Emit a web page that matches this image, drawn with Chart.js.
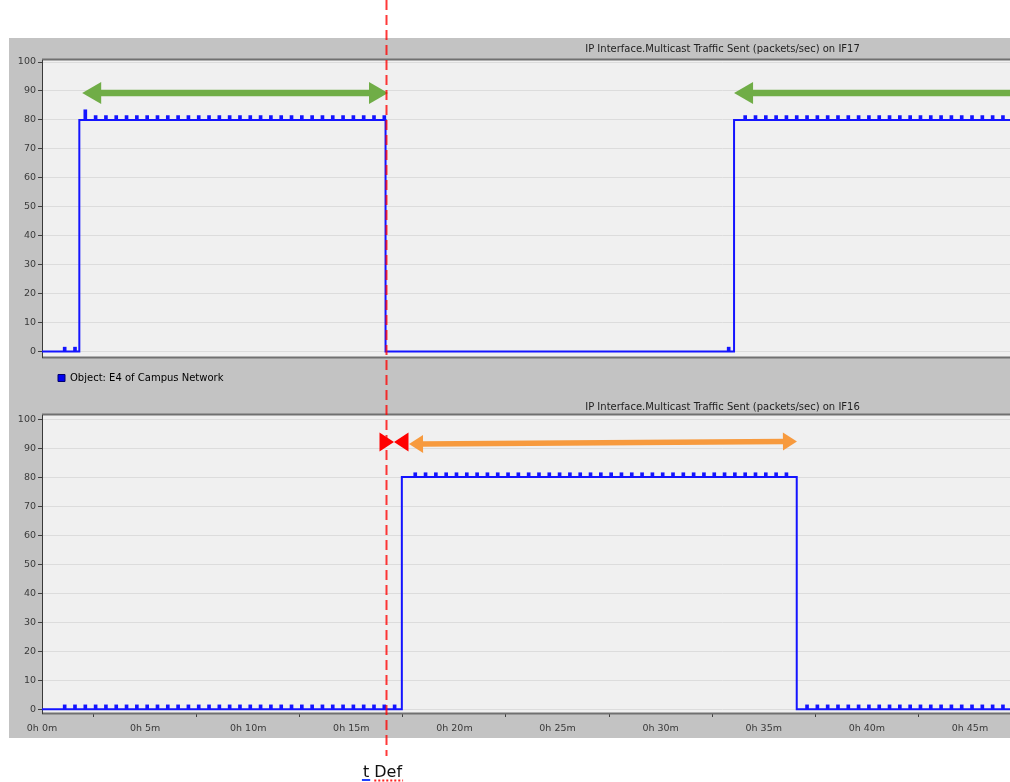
<!DOCTYPE html>
<html><head><meta charset="utf-8">
<script src="https://cdn.jsdelivr.net/npm/chart.js@4.4.1/dist/chart.umd.min.js"></script>
<style>
html,body{margin:0;padding:0;background:#fff;overflow:hidden}
#wrap{position:relative;width:1010px;height:782px;overflow:hidden;background:#fff}
#panel{position:absolute;left:9px;top:38px;width:1001px;height:700px;background:#c3c3c3}
#c1{position:absolute;left:0;top:0}
#c2{position:absolute;left:0;top:395px}
</style></head><body>
<div id="wrap"><div id="panel"></div>
<canvas id="c1" width="1403" height="395"></canvas>
<canvas id="c2" width="1403" height="387"></canvas>
</div>
<script>
// ---------- data ----------
const topTitle = 'IP Interface.Multicast Traffic Sent (packets/sec) on IF17';
const bottomTitle = 'IP Interface.Multicast Traffic Sent (packets/sec) on IF16';
const seriesLabel = 'Object: E4 of Campus Network';
const xTickValues = [0, 5, 10, 15, 20, 25, 30, 35, 40, 45];
const xTickLabels = ['0h 0m', '0h 5m', '0h 10m', '0h 15m', '0h 20m', '0h 25m', '0h 30m', '0h 35m', '0h 40m', '0h 45m'];
const yTickValues = [0, 10, 20, 30, 40, 50, 60, 70, 80, 90, 100];

// step levels (minutes, packets/sec)
const topStepTimes  = [0, 1.81, 16.66, 33.56, 47];
const topStepValues = [0, 80, 0, 80, 80];
const bottomStepTimes  = [0, 17.45, 36.6, 47];
const bottomStepValues = [0, 80, 0, 0];

// individual samples (bump tops)
const topSampleTimes = [1.1, 1.6,
  2.1, 2.6, 3.1, 3.6, 4.1, 4.6, 5.1, 5.6, 6.1, 6.6, 7.1, 7.6, 8.1, 8.6, 9.1, 9.6,
  10.1, 10.6, 11.1, 11.6, 12.1, 12.6, 13.1, 13.6, 14.1, 14.6, 15.1, 15.6, 16.1, 16.6,
  33.3,
  34.1, 34.6, 35.1, 35.6, 36.1, 36.6, 37.1, 37.6, 38.1, 38.6, 39.1, 39.6, 40.1, 40.6,
  41.1, 41.6, 42.1, 42.6, 43.1, 43.6, 44.1, 44.6, 45.1, 45.6, 46.1, 46.6];
const topSampleValues = [1.5, 1.5,
  83.5, 81.5, 81.5, 81.5, 81.5, 81.5, 81.5, 81.5, 81.5, 81.5, 81.5, 81.5, 81.5, 81.5, 81.5, 81.5,
  81.5, 81.5, 81.5, 81.5, 81.5, 81.5, 81.5, 81.5, 81.5, 81.5, 81.5, 81.5, 81.5, 81.5,
  1.5,
  81.5, 81.5, 81.5, 81.5, 81.5, 81.5, 81.5, 81.5, 81.5, 81.5, 81.5, 81.5, 81.5, 81.5,
  81.5, 81.5, 81.5, 81.5, 81.5, 81.5, 81.5, 81.5, 81.5, 81.5, 81.5, 81.5];
const bottomSampleTimes = [
  1.1, 1.6, 2.1, 2.6, 3.1, 3.6, 4.1, 4.6, 5.1, 5.6, 6.1, 6.6, 7.1, 7.6, 8.1, 8.6, 9.1,
  9.6, 10.1, 10.6, 11.1, 11.6, 12.1, 12.6, 13.1, 13.6, 14.1, 14.6, 15.1, 15.6, 16.1, 16.6, 17.1,
  18.1, 18.6, 19.1, 19.6, 20.1, 20.6, 21.1, 21.6, 22.1, 22.6, 23.1, 23.6, 24.1, 24.6, 25.1, 25.6,
  26.1, 26.6, 27.1, 27.6, 28.1, 28.6, 29.1, 29.6, 30.1, 30.6, 31.1, 31.6, 32.1, 32.6, 33.1, 33.6,
  34.1, 34.6, 35.1, 35.6, 36.1,
  37.1, 37.6, 38.1, 38.6, 39.1, 39.6, 40.1, 40.6, 41.1, 41.6, 42.1, 42.6, 43.1, 43.6, 44.1, 44.6,
  45.1, 45.6, 46.1, 46.6];
const bottomSampleValues = [
  1.5, 1.5, 1.5, 1.5, 1.5, 1.5, 1.5, 1.5, 1.5, 1.5, 1.5, 1.5, 1.5, 1.5, 1.5, 1.5, 1.5,
  1.5, 1.5, 1.5, 1.5, 1.5, 1.5, 1.5, 1.5, 1.5, 1.5, 1.5, 1.5, 1.5, 1.5, 1.5, 1.5,
  81.5, 81.5, 81.5, 81.5, 81.5, 81.5, 81.5, 81.5, 81.5, 81.5, 81.5, 81.5, 81.5, 81.5, 81.5, 81.5,
  81.5, 81.5, 81.5, 81.5, 81.5, 81.5, 81.5, 81.5, 81.5, 81.5, 81.5, 81.5, 81.5, 81.5, 81.5, 81.5,
  81.5, 81.5, 81.5, 81.5, 81.5,
  1.5, 1.5, 1.5, 1.5, 1.5, 1.5, 1.5, 1.5, 1.5, 1.5, 1.5, 1.5, 1.5, 1.5, 1.5, 1.5,
  1.5, 1.5, 1.5, 1.5];

// annotations (data units)
const tDef = 16.66;
const tDefLabel = 't Def';
const greenArrowStarts = [1.95, 33.56];
const greenArrowEnds   = [16.78, 66];
const greenArrowLevel  = 89.3;
const orangeArrowX = [17.8, 36.61];
const orangeArrowY = [91.4, 92.3];
const redBowtieX = 17.07;
const redBowtieY = 92.1;

// ---------- drawing ----------
const FONT = "'DejaVu Sans', sans-serif";
const TXT = '#3a3a3a';
const X_MAX = 66;

function levelAt(times, values, t) {
  let v = values[0];
  for (let i = 0; i < times.length; i++) if (times[i] <= t) v = values[i];
  return v;
}
function stepData(times, values) { return times.map((t, i) => ({x: t, y: values[i]})); }
function bumpData(sTimes, sValues, stTimes, stValues) {
  return sTimes.map((t, i) => ({x: t, y: [levelAt(stTimes, stValues, t), sValues[i]]}));
}

const plotBg = { id: 'plotBg', beforeDraw(chart) {
  const {ctx, chartArea: a} = chart;
  ctx.save(); ctx.fillStyle = '#f0f0f0';
  ctx.fillRect(a.left, a.top, a.right - a.left, a.bottom - a.top); ctx.restore();
}};
const frame = { id: 'frame', beforeDatasetsDraw(chart) {
  const {ctx, chartArea: a} = chart;
  ctx.save(); ctx.strokeStyle = '#707070'; ctx.lineWidth = 2;
  ctx.beginPath();
  ctx.moveTo(a.left, a.top - 0.5); ctx.lineTo(a.right, a.top - 0.5);
  ctx.moveTo(a.left, a.bottom + 0.5); ctx.lineTo(a.right, a.bottom + 0.5);
  ctx.stroke();
  ctx.strokeStyle = '#3a3a3a'; ctx.lineWidth = 1;
  ctx.beginPath(); ctx.moveTo(a.left + 0.5, a.top); ctx.lineTo(a.left + 0.5, a.bottom + 1); ctx.stroke();
  ctx.restore();
}};

function drawArrow(ctx, x1, y1, x2, y2, color, shaftW, headL, headW) {
  const ang = Math.atan2(y2 - y1, x2 - x1), len = Math.hypot(x2 - x1, y2 - y1);
  ctx.save(); ctx.translate(x1, y1); ctx.rotate(ang); ctx.fillStyle = color;
  ctx.fillRect(headL - 1, -shaftW / 2, len - 2 * headL + 2, shaftW);
  ctx.beginPath(); ctx.moveTo(0, 0); ctx.lineTo(headL, -headW / 2); ctx.lineTo(headL, headW / 2); ctx.closePath(); ctx.fill();
  ctx.beginPath(); ctx.moveTo(len, 0); ctx.lineTo(len - headL, -headW / 2); ctx.lineTo(len - headL, headW / 2); ctx.closePath(); ctx.fill();
  ctx.restore();
}

const topArrows = { id: 'topArrows', afterDatasetsDraw(chart) {
  const {ctx, scales: {x, y}} = chart;
  const py = y.getPixelForValue(greenArrowLevel);
  greenArrowStarts.forEach((s, i) => {
    drawArrow(ctx, x.getPixelForValue(s), py, x.getPixelForValue(greenArrowEnds[i]), py, '#70ad47', 6.5, 19, 22);
  });
}};
const bottomArrows = { id: 'bottomArrows', afterDatasetsDraw(chart) {
  const {ctx, scales: {x, y}} = chart;
  drawArrow(ctx, x.getPixelForValue(orangeArrowX[0]), y.getPixelForValue(orangeArrowY[0]),
    x.getPixelForValue(orangeArrowX[1]), y.getPixelForValue(orangeArrowY[1]), '#f79a3e', 5.5, 14, 18);
  const cx = x.getPixelForValue(redBowtieX), cy = y.getPixelForValue(redBowtieY);
  ctx.save(); ctx.fillStyle = '#ff0000';
  ctx.beginPath(); ctx.moveTo(cx, cy); ctx.lineTo(cx - 14.5, cy - 9.5); ctx.lineTo(cx - 14.5, cy + 9.5); ctx.closePath(); ctx.fill();
  ctx.beginPath(); ctx.moveTo(cx, cy); ctx.lineTo(cx + 14.5, cy - 9.5); ctx.lineTo(cx + 14.5, cy + 9.5); ctx.closePath(); ctx.fill();
  ctx.restore();
}};

function redLine(id, yEndFn, dashOffset, withLabel) {
  return { id, afterDraw(chart) {
    const {ctx, scales: {x}} = chart;
    const px = Math.round(x.getPixelForValue(tDef)) + 0.5;
    ctx.save();
    ctx.strokeStyle = 'rgba(255,0,0,0.78)'; ctx.lineWidth = 2;
    ctx.setLineDash([10, 5]); ctx.lineDashOffset = dashOffset;
    ctx.beginPath(); ctx.moveTo(px, 0); ctx.lineTo(px, yEndFn(chart)); ctx.stroke();
    ctx.restore();
    if (withLabel) {
      ctx.save();
      ctx.font = "16px 'DejaVu Sans', sans-serif";
      ctx.fillStyle = '#111'; ctx.textBaseline = 'alphabetic'; ctx.textAlign = 'left';
      const w = ctx.measureText(tDefLabel).width;
      const left = px - 4 - w / 2, base = 382;
      ctx.fillText(tDefLabel, left, base);
      const wt = ctx.measureText('t').width, ws = ctx.measureText('t ').width;
      ctx.lineWidth = 2;
      ctx.strokeStyle = '#2040ff';
      ctx.beginPath(); ctx.moveTo(left - 1, base + 3); ctx.lineTo(left + wt + 1, base + 3); ctx.stroke();
      ctx.strokeStyle = '#ff2020'; ctx.setLineDash([2, 2]);
      ctx.beginPath(); ctx.moveTo(left + ws, base + 3.5); ctx.lineTo(left + w + 1, base + 3.5); ctx.stroke();
      ctx.restore();
    }
  }};
}

function yScale(min, max) {
  return {
    type: 'linear', min, max,
    afterBuildTicks: s => { s.ticks = yTickValues.map(v => ({value: v})); },
    afterFit: s => { s.width = 42; },
    ticks: { font: {family: FONT, size: 9.5}, color: TXT, padding: 2, callback: (v, i) => String(yTickValues[i]) },
    grid: { color: '#dcdcdc', lineWidth: 1, drawTicks: true, tickLength: 4, tickColor: '#404040' },
    border: { display: false }
  };
}

const lineStyle = { borderColor: '#1414ff', backgroundColor: '#0000ee', borderWidth: 2, pointRadius: 0, stepped: true, fill: false };
const bumpStyle = { backgroundColor: '#1414ff', borderWidth: 0, barThickness: 3, grouped: false };

new Chart(document.getElementById('c1'), {
  type: 'line',
  data: { datasets: [
    Object.assign({ type: 'line', label: seriesLabel, data: stepData(topStepTimes, topStepValues) }, lineStyle),
    Object.assign({ type: 'bar', label: 'samples', data: bumpData(topSampleTimes, topSampleValues, topStepTimes, topStepValues) }, bumpStyle)
  ]},
  options: {
    responsive: false, animation: false, devicePixelRatio: 1,
    layout: { padding: { top: 38, left: 0, right: 0, bottom: 2 } },
    scales: {
      x: { type: 'linear', min: 0, max: X_MAX, display: false, offset: false },
      y: yScale(-1.9, 100.7)
    },
    plugins: {
      title: { display: true, text: topTitle, fullSize: false, color: '#222', font: {family: FONT, size: 10, weight: 'normal'}, padding: {top: 5, bottom: 5} },
      legend: { display: true, position: 'bottom', align: 'start', fullSize: false,
        labels: { boxWidth: 7, boxHeight: 7, padding: 16, color: '#222', font: {family: FONT, size: 10},
          generateLabels: () => [{ text: seriesLabel, fillStyle: '#0000ee', strokeStyle: '#00006a', lineWidth: 1, hidden: false, datasetIndex: 0 }] } },
      tooltip: { enabled: false }
    }
  },
  plugins: [plotBg, frame, topArrows, redLine('redTop', c => c.height, 0, false)]
});

new Chart(document.getElementById('c2'), {
  type: 'line',
  data: { datasets: [
    Object.assign({ type: 'line', label: seriesLabel, data: stepData(bottomStepTimes, bottomStepValues) }, lineStyle),
    Object.assign({ type: 'bar', label: 'samples', data: bumpData(bottomSampleTimes, bottomSampleValues, bottomStepTimes, bottomStepValues) }, bumpStyle)
  ]},
  options: {
    responsive: false, animation: false, devicePixelRatio: 1,
    layout: { padding: { top: 0, left: 0, right: 0, bottom: 47 } },
    scales: {
      x: { type: 'linear', min: 0, max: X_MAX, offset: false,
        afterBuildTicks: s => { s.ticks = xTickValues.map(v => ({value: v})); },
        afterFit: s => { s.height = 22; },
        ticks: { callback: (v, i) => xTickLabels[i], font: {family: FONT, size: 9.5}, color: TXT, padding: 6, maxRotation: 0, autoSkip: false },
        grid: { display: true, drawOnChartArea: false, drawTicks: true, tickLength: 4, tickColor: '#404040' },
        border: { display: false } },
      y: yScale(-1.3, 101.4)
    },
    plugins: {
      title: { display: true, text: bottomTitle, fullSize: false, color: '#222', font: {family: FONT, size: 10, weight: 'normal'}, padding: {top: 6, bottom: 2} },
      legend: { display: false },
      tooltip: { enabled: false }
    }
  },
  plugins: [plotBg, frame, bottomArrows, redLine('redBottom', c => 361, 395 % 15, true)]
});
</script>
</body></html>
